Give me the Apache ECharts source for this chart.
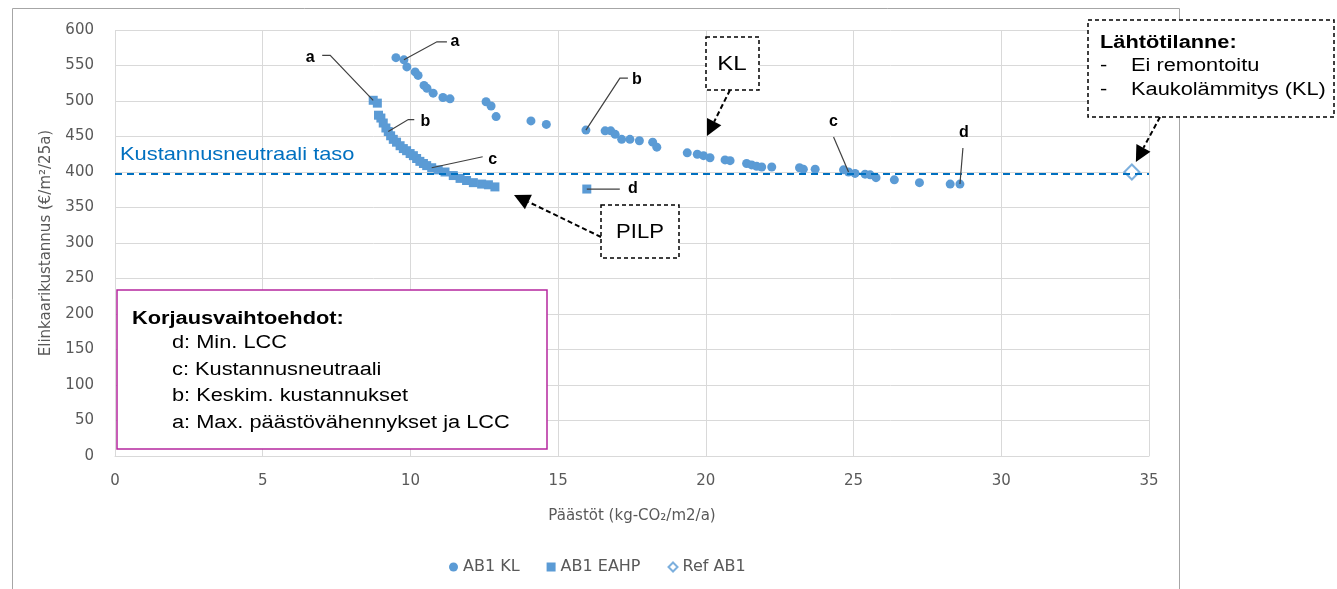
<!DOCTYPE html>
<html>
<head>
<meta charset="utf-8">
<script src="https://cdn.jsdelivr.net/npm/echarts@6/dist/echarts.min.js"></script>
<style>
html,body{margin:0;padding:0;background:#fff;}
#chart{width:1337px;height:589px;}
</style>
</head>
<body>
<div id="chart"></div>
<script>
// ---- Data ----
const klX = [9.51, 9.78, 9.88, 10.16, 10.26, 10.46, 10.56, 10.77, 11.1, 11.34, 12.56, 12.73, 12.9, 14.08, 14.6, 15.94, 16.59, 16.78, 16.93, 17.15, 17.43, 17.75, 18.2, 18.34, 19.37, 19.71, 19.92, 20.14, 20.65, 20.82, 21.38, 21.55, 21.72, 21.89, 22.23, 23.17, 23.3, 23.7, 24.66, 24.83, 25.05, 25.39, 25.56, 25.76, 26.38, 27.23, 28.27, 28.6];
const klY = [561, 558, 548, 541, 536, 522, 518, 511, 505, 503, 499, 493, 478, 472, 467, 459, 458, 458, 453, 446, 446, 444, 442, 435, 427, 425, 423, 420, 417, 416, 412, 410, 408, 407, 407, 406, 404, 404, 403, 400, 398, 397, 396, 392, 389, 385, 383, 383];
const eahpX = [8.74, 8.88, 8.92, 9.0, 9.08, 9.17, 9.25, 9.33, 9.42, 9.53, 9.65, 9.76, 9.87, 9.99, 10.1, 10.21, 10.32, 10.44, 10.55, 10.72, 10.94, 11.17, 11.45, 11.68, 11.9, 12.13, 12.41, 12.64, 12.86, 15.97];
const eahpY = [501, 497, 480, 476, 469, 462, 457, 451, 446, 442, 437, 433, 430, 426, 423, 419, 415, 412, 409, 406, 403, 400, 395, 391, 388, 385, 383, 382, 379, 376];
const refX = [34.42];
const refY = [400];
const neutralLevel = 398;
const xTicks = [0, 5, 10, 15, 20, 25, 30, 35];
const yTicks = [0, 50, 100, 150, 200, 250, 300, 350, 400, 450, 500, 550, 600];
const seriesNames = ['AB1 KL', 'AB1 EAHP', 'Ref AB1'];

const zip = (a, b) => a.map((v, i) => [v, b[i]]);

const BLUE = '#5B9BD5';
const AXISFONT = '"DejaVu Sans",sans-serif';
const ARIAL = '"Liberation Sans",Arial,sans-serif';
const SX = 1.21; // horizontal stretch of the annotation text

const chart = echarts.init(document.getElementById('chart'));

const option = {
  animation: false,
  backgroundColor: '#fff',
  grid: { left: 115, right: 188, top: 30, bottom: 133, containLabel: false },
  xAxis: {
    type: 'value', min: xTicks[0], max: xTicks[xTicks.length - 1], interval: 5,
    name: 'Päästöt (kg-CO₂/m2/a)', nameLocation: 'middle', nameGap: 53,
    nameTextStyle: { color: '#595959', fontSize: 15, fontFamily: AXISFONT },
    axisLine: { show: true, lineStyle: { color: '#D9D9D9' } },
    axisTick: { show: false },
    axisLabel: { color: '#595959', fontSize: 15, fontFamily: AXISFONT, margin: 18 },
    splitLine: { show: true, lineStyle: { color: '#D9D9D9', width: 1 } }
  },
  yAxis: {
    type: 'value', min: yTicks[0], max: yTicks[yTicks.length - 1], interval: 50,
    name: 'Elinkaarikustannus (€/m²/25a)', nameLocation: 'middle', nameGap: 61,
    nameTextStyle: { color: '#595959', fontSize: 15, fontFamily: AXISFONT },
    axisLine: { show: false },
    axisTick: { show: false },
    axisLabel: { color: '#595959', fontSize: 15, fontFamily: AXISFONT, margin: 21 },
    splitLine: { show: true, lineStyle: { color: '#D9D9D9', width: 1 } }
  },
  legend: {
    left: 444, top: 554,
    itemWidth: 9, itemHeight: 9, itemGap: 27,
    textStyle: { color: '#595959', fontSize: 16, fontFamily: AXISFONT },
    data: [
      { name: seriesNames[0], icon: 'circle' },
      { name: seriesNames[1], icon: 'rect' },
      { name: seriesNames[2], icon: 'diamond', itemStyle: { color: '#fff', borderColor: BLUE, borderWidth: 2 } }
    ]
  },
  series: [
    {
      name: seriesNames[0], type: 'scatter', symbol: 'circle', symbolSize: 9,
      itemStyle: { color: BLUE, opacity: 1 },
      data: zip(klX, klY), z: 3,
      markLine: {
        silent: true, symbol: 'none',
        lineStyle: { color: '#0070C0', type: [7, 5], width: 2 },
        label: { show: false },
        data: [{ yAxis: neutralLevel }]
      }
    },
    {
      name: seriesNames[1], type: 'scatter', symbol: 'rect', symbolSize: 9,
      itemStyle: { color: BLUE, opacity: 1 },
      data: zip(eahpX, eahpY), z: 3
    },
    {
      name: seriesNames[2], type: 'scatter', symbol: 'diamond', symbolSize: 15,
      itemStyle: { color: '#fff', borderColor: BLUE, borderWidth: 2 },
      data: zip(refX, refY), z: 4
    }
  ]
};
chart.setOption(option);

// ---- Annotations anchored on data points ----
const leaders = [
  { x: klX, y: klY, i: 1, pts: [[33, -18], [43, -18]], lab: [51, -18], t: 'a' },
  { x: klX, y: klY, i: 15, pts: [[34, -52], [42, -52]], lab: [51, -51], t: 'b' },
  { x: klX, y: klY, i: 39, pts: [[-15, -35]], lab: [-15, -50], t: 'c' },
  { x: klX, y: klY, i: 47, pts: [[3, -36]], lab: [4, -51], t: 'd' },
  { x: eahpX, y: eahpY, i: 0, pts: [[-43, -45], [-51, -45]], lab: [-63, -43], t: 'a' },
  { x: eahpX, y: eahpY, i: 6, pts: [[20, -12], [26, -12]], lab: [37, -10], t: 'b' },
  { x: eahpX, y: eahpY, i: 19, pts: [[51, -11]], lab: [61, -8], t: 'c' },
  { x: eahpX, y: eahpY, i: 29, pts: [[33, 0]], lab: [46, 0], t: 'd' }
];

const g = [];
g.push({ type: 'rect', shape: { x: 12.5, y: 8.5, width: 1167, height: 600 }, style: { fill: 'none', stroke: '#A6A6A6', lineWidth: 1 }, z: 0, silent: true });

leaders.forEach(L => {
  const p = chart.convertToPixel({ gridIndex: 0 }, [L.x[L.i], L.y[L.i]]);
  const pts = [p].concat(L.pts.map(o => [p[0] + o[0], p[1] + o[1]]));
  g.push({ type: 'polyline', shape: { points: pts }, style: { stroke: '#404040', lineWidth: 1.2, fill: 'none' }, z: 10 });
  g.push({ type: 'text', x: p[0] + L.lab[0], y: p[1] + L.lab[1], style: { text: L.t, font: 'bold 16px ' + ARIAL, fill: '#000', align: 'center', verticalAlign: 'middle' }, z: 10 });
});

function txt(x, y, s, font, opts) {
  g.push(Object.assign({ type: 'text', x, y, scaleX: SX, style: Object.assign({ text: s, font: font, fill: '#000', verticalAlign: 'middle' }, opts || {}), z: 12 }));
}

const nl = chart.convertToPixel({ gridIndex: 0 }, [0, neutralLevel]);
g.push({ type: 'text', x: 120, y: nl[1] - 19, scaleX: 1.15, style: { text: 'Kustannusneutraali taso', font: '19px ' + ARIAL, fill: '#0070C0', verticalAlign: 'middle' }, z: 10 });

function arrow(x1, y1, x2, y2) {
  const ang = Math.atan2(y2 - y1, x2 - x1);
  const len = 16, w = 8;
  const bx = x2 - len * Math.cos(ang), by = y2 - len * Math.sin(ang);
  const nx = -Math.sin(ang), ny = Math.cos(ang);
  g.push({ type: 'line', shape: { x1, y1, x2: bx, y2: by }, style: { stroke: '#000', lineWidth: 2, lineDash: [5, 3] }, z: 11 });
  g.push({ type: 'polygon', shape: { points: [[x2, y2], [bx + nx * w, by + ny * w], [bx - nx * w, by - ny * w]] }, style: { fill: '#000' }, z: 11 });
}
function dashBox(x, y, w, h) {
  g.push({ type: 'rect', shape: { x, y, width: w, height: h }, style: { fill: '#fff', stroke: '#000', lineWidth: 1.5, lineDash: [4, 3] }, z: 11 });
}

// KL callout
dashBox(706, 37, 53, 53);
g.push({ type: 'text', x: 732, y: 64, scaleX: 1.15, style: { text: 'KL', font: '21px ' + ARIAL, fill: '#000', align: 'center', verticalAlign: 'middle' }, z: 12 });
arrow(730, 90, 707, 136);

// PILP callout
dashBox(601, 205, 78, 53);
g.push({ type: 'text', x: 640, y: 232, scaleX: 1.05, style: { text: 'PILP', font: '21px ' + ARIAL, fill: '#000', align: 'center', verticalAlign: 'middle' }, z: 12 });
arrow(601, 237, 514, 195);

// Lähtötilanne callout
dashBox(1088, 20, 246, 97);
txt(1100, 43, 'Lähtötilanne:', 'bold 18px ' + ARIAL);
txt(1100, 66, '-', '18px ' + ARIAL);
txt(1131, 66, 'Ei remontoitu', '18px ' + ARIAL);
txt(1100, 90, '-', '18px ' + ARIAL);
txt(1131, 90, 'Kaukolämmitys (KL)', '18px ' + ARIAL);
const rp = chart.convertToPixel({ gridIndex: 0 }, [refX[0], refY[0]]);
arrow(1160, 117, rp[0] + 4, rp[1] - 10);

// Korjausvaihtoehdot box
g.push({ type: 'rect', shape: { x: 117, y: 290, width: 430, height: 159 }, style: { fill: '#fff', stroke: '#B5279E', lineWidth: 1.5 }, z: 11 });
txt(132, 319, 'Korjausvaihtoehdot:', 'bold 18px ' + ARIAL);
['d: Min. LCC', 'c: Kustannusneutraali', 'b: Keskim. kustannukset', 'a: Max. päästövähennykset ja LCC'].forEach((s, k) => {
  txt(172, 343 + k * 26.7, s, '18px ' + ARIAL);
});

chart.setOption({ graphic: { elements: g } });
</script>
</body>
</html>
